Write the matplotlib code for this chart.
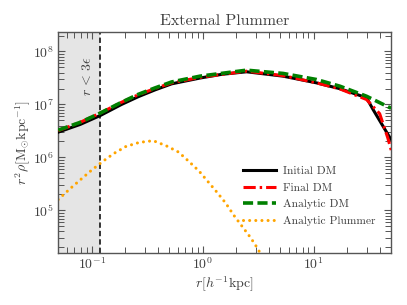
import matplotlib
matplotlib.use("Agg")
import matplotlib.pyplot as plt
import numpy as np

# ---------------- data ----------------
r_dm = [0.050, 0.079, 0.12, 0.186, 0.263, 0.372, 0.526, 0.946, 1.48, 2.49, 5.32, 10.6, 17.3,
        30.0, 34.4, 48.7, 50.0]
initial_dm = [3.0e6, 4.2e6, 6.2e6, 1.0e7, 1.40e7, 1.88e7, 2.45e7, 3.15e7, 3.70e7, 4.14e7, 3.42e7,
              2.56e7, 1.98e7, 1.34e7, 8.0e6, 2.36e6, 2.2e6]

r_final = [0.050, 0.079, 0.12, 0.186, 0.263, 0.372, 0.526, 0.946, 2.49, 5.32, 10.6, 17.3, 30.0,
           39.4, 46.6, 50.4]
final_dm = [3.2e6, 4.6e6, 6.9e6, 1.1e7, 1.52e7, 2.0e7, 2.55e7, 3.25e7, 4.25e7, 3.50e7, 2.56e7,
            1.96e7, 1.24e7, 6.7e6, 2.36e6, 1.31e6]

r_an = [0.050, 0.079, 0.12, 0.186, 0.263, 0.372, 0.526, 0.946, 2.49, 5.32, 10.6, 17.3, 30.0,
        48.7, 50.0]
analytic_dm = [3.27e6, 4.6e6, 6.9e6, 1.1e7, 1.55e7, 2.05e7, 2.66e7, 3.42e7, 4.44e7, 3.85e7,
               2.96e7, 2.21e7, 1.43e7, 8.7e6, 8.5e6]

r_pl = [0.050, 0.064, 0.080, 0.10, 0.126, 0.159, 0.204, 0.269, 0.359, 0.470, 0.608, 0.757,
        0.931, 1.12, 1.35, 1.62, 1.91, 2.27, 2.71, 3.17, 3.5]
analytic_plummer = [1.6e5, 2.57e5, 3.85e5, 5.75e5, 8.4e5, 1.19e6, 1.61e6, 1.92e6, 2.07e6, 1.66e6,
                    1.26e6, 8.3e5, 5.5e5, 3.48e5, 2.19e5, 1.36e5, 8.1e4, 5.0e4, 3.05e4, 1.84e4, 1.2e4]

soft_limit = 0.12
labels = ["Initial DM", "Final DM", "Analytic DM", "Analytic Plummer"]
title = "External Plummer"

# ---------------- style ----------------
txt = "#404040"
plt.rcParams["mathtext.fontset"] = "cm"
plt.rcParams["font.family"] = ["cmr10", "DejaVu Serif"]
plt.rcParams["axes.unicode_minus"] = False
plt.rcParams["axes.formatter.use_mathtext"] = True
plt.rcParams["text.color"] = txt
plt.rcParams["axes.labelcolor"] = txt
plt.rcParams["xtick.color"] = "#555555"
plt.rcParams["ytick.color"] = "#555555"
plt.rcParams["xtick.labelcolor"] = txt
plt.rcParams["ytick.labelcolor"] = txt

fig = plt.figure(figsize=(4.07, 3.05), dpi=100)
ax = fig.add_axes([0.143, 0.172, 0.818, 0.722])

ax.axvspan(0.01, soft_limit, color="#e5e5e5", zorder=0, lw=0)
ax.axvline(soft_limit, color="black", ls=(0, (3.5, 2)), lw=1.1, zorder=1)

ax.plot(r_dm, initial_dm, color="black", lw=2.2, label=labels[0], zorder=3)
ax.plot(r_final, final_dm, color="red", lw=2.2, ls=(0, (4, 1.3, 0.8, 1.3)), label=labels[1], zorder=4)
ax.plot(r_an, analytic_dm, color="green", lw=2.6, ls=(0, (2.8, 1.2)), label=labels[2], zorder=5)
ax.plot(r_pl, analytic_plummer, color="orange", lw=2.2, ls=(0, (0.01, 2.0)),
        dash_capstyle="round", label=labels[3], zorder=2)

ax.set_xscale("log")
ax.set_yscale("log")
ax.set_xlim(0.05, 50)
ax.set_ylim(1.6e4, 2.3e8)

ax.text(0.0926, 3.5e7, r"$r\,<\,3\epsilon$", rotation=90, ha="center", va="center",
        fontsize=10, color=txt)

ax.set_title(title, fontsize=11.5, color=txt, pad=5)
ax.set_xlabel(r"$r[h^{-1}\mathrm{kpc}]$", fontsize=10, labelpad=2)
ax.set_ylabel(r"$r^2\rho[\mathrm{M}_{\odot}\mathrm{kpc}^{-1}]$", fontsize=10, labelpad=0)

ax.tick_params(which="both", direction="in", top=True, right=True, labelsize=10, pad=3)
ax.tick_params(which="major", length=5, width=0.8)
ax.tick_params(which="minor", length=4, width=0.7)
for s in ax.spines.values():
    s.set_color("#555555")
    s.set_linewidth(1.0)

leg = ax.legend(loc="lower right", bbox_to_anchor=(0.985, 0.075), frameon=False, fontsize=8.3,
                handlelength=2.9, labelspacing=0.55, handletextpad=0.6)
for t in leg.get_texts():
    t.set_color(txt)

fig.savefig("out.png", dpi=100)
